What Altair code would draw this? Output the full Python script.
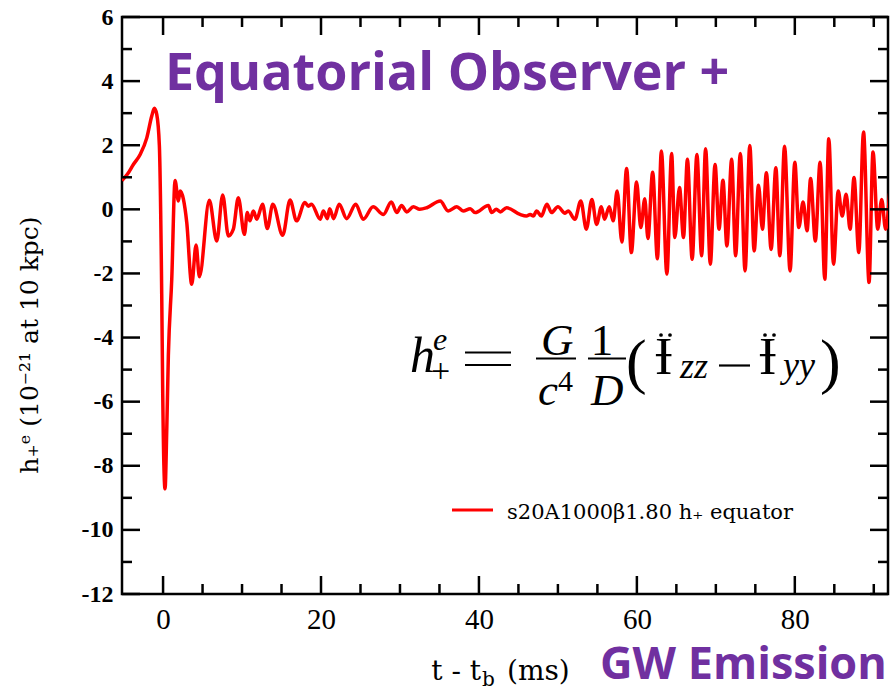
import altair as alt
import pandas as pd

# ---- data ----
t_ms = [-5.2, -4.5, -3.76, -2.9, -2.06, -1.43, -1.1, -0.8, -0.47, -0.17,
        -0.04, 0.25, 0.47, 0.67, 1.1, 1.52, 1.94, 2.15, 3.0, 3.63,
        4.18, 4.6, 5.86, 6.8, 7.55, 8.27, 8.9, 9.53, 10.3, 10.67,
        11.0, 11.43, 11.86, 12.6, 13.2, 13.9, 15.15, 16.08, 16.9, 17.97,
        18.4, 18.8, 19.9, 20.3, 20.8, 21.1, 21.6, 22.3, 23.25, 24.4,
        25.35, 26.6, 27.9, 28.9, 29.6, 30.2, 30.85, 31.7, 32.5, 33.4,
        35.1, 36.1, 37.2, 38.0, 38.9, 39.5, 41.2, 41.6, 42.2, 42.7,
        43.5, 45.2, 46.0, 46.5, 46.9, 47.3, 47.9, 48.6, 49.2, 50.0,
        50.9, 51.3, 52.15, 52.9, 53.6, 54.3, 54.9, 55.5, 55.9, 56.5,
        57.0, 57.5, 58.1, 58.7, 59.3, 59.96, 60.5, 61.0, 61.4, 62.0,
        62.6, 63.1, 63.8, 64.4, 64.8, 65.4, 65.9, 66.4, 67.0, 67.6,
        68.2, 68.7, 69.3, 69.9, 70.4, 70.9, 71.4, 72.0, 72.5, 73.1,
        73.7, 74.3, 74.85, 75.4, 75.9, 76.4, 77.0, 77.6, 78.1, 78.7,
        79.4, 80.0, 80.5, 81.05, 81.55, 82.0, 82.6, 83.2, 83.8, 84.3,
        84.9, 85.5, 86.0, 86.5, 87.0, 87.5, 88.1, 88.7, 89.4, 89.9,
        90.5, 91.0, 91.5, 92.0]

h_plus = [0.90, 1.10, 1.40, 1.71, 2.23, 2.91, 3.15, 2.96, 2.0, -2.65,
          -5.8, -8.72, -6.85, -4.57, -2.18, 0.90, 0.26, 0.57, -0.41, -2.34,
          -1.11, -2.10, 0.28, -0.99, 0.45, -0.83, -0.62, 0.36, -0.78, -0.10,
          -0.36, -0.05, -0.31, 0.16, -0.60, 0.16, -0.81, 0.29, -0.36, 0.21,
          0.10, 0.16, -0.31, -0.05, -0.29, 0.02, -0.29, 0.16, -0.29, 0.16,
          -0.31, 0.08, -0.16, 0.23, -0.10, 0.12, -0.08, 0.08, 0.0, 0.05,
          0.26, -0.05, 0.08, -0.05, 0.02, -0.10, 0.12, -0.10, 0.0, -0.08,
          0.05, -0.16, -0.21, -0.16, -0.21, -0.05, -0.21, 0.16, -0.10, 0.08,
          -0.12, -0.05, -0.31, 0.26, -0.62, 0.31, -0.47, 0.08, -0.31, 0.08,
          -0.36, 0.57, -1.02, 1.27, -1.35, 0.85, -0.57, 0.33, -0.91, 1.16,
          -1.54, 1.82, -2.02, 1.74, -0.88, 0.68, -0.88, 1.56, -1.56, 1.71,
          -1.45, 1.89, -1.71, 1.40, -0.62, 0.91, -1.14, 1.56, -1.45, 1.74,
          -1.92, 1.99, -1.30, 0.75, -0.62, 1.14, -1.25, 1.30, -1.45, 1.97,
          -1.92, 1.47, -0.57, 0.23, -0.67, 0.96, -0.99, 1.47, -2.18, 2.20,
          -1.71, 0.57, -0.21, 0.47, -0.62, 0.99, -1.35, 2.41, -2.28, 1.79,
          -0.62, 0.31, -0.62, 0.5]

y_major = [-12, -10, -8, -6, -4, -2, 0, 2, 4, 6]
y_minor = [-11, -9, -7, -5, -3, -1, 1, 3, 5]
x_major = [0, 20, 40, 60, 80]
x_minor = [5, 10, 15, 25, 30, 35, 45, 50, 55, 65, 70, 75, 85, 90]

legend_label = "s20A1000\u03b21.80 h\u208a equator"

# ---- layout ----
W, H = 766, 577
LEFT, TOP = 122, 17
RED = "#ff0000"
PURPLE = "#7030A0"

xs = alt.Scale(domain=[-5.2, 91.8], nice=False, zero=False)
ys = alt.Scale(domain=[-12, 6], nice=False, zero=False)
xaxis = alt.Axis(values=x_major, ticks=False, domain=False, grid=False,
                 labelFont="Liberation Serif", labelFontSize=29, labelPadding=11,
                 labelColor="black", title=None, labelFlush=False)
yaxis = alt.Axis(values=y_major, ticks=False, domain=False, grid=False,
                 labelFont="Liberation Serif", labelFontWeight="bold", labelFontSize=24,
                 labelPadding=9, labelColor="black", title=None,
                 labelExpr="toString(datum.value)")

df = pd.DataFrame({"t": t_ms, "h": h_plus})

line = alt.Chart(df).mark_line(color=RED, strokeWidth=3.5, clip=True,
                               interpolate="monotone").encode(
    x=alt.X("t:Q", scale=xs, axis=xaxis),
    y=alt.Y("h:Q", scale=ys, axis=yaxis),
)

def yticks(vals, x0, x1):
    return alt.Chart(pd.DataFrame({"v": vals})).mark_rule(color="black", strokeWidth=2.5).encode(
        y=alt.Y("v:Q", scale=ys, axis=yaxis), x=alt.value(x0), x2=alt.value(x1))

def xticks(vals, y0, y1):
    return alt.Chart(pd.DataFrame({"v": vals})).mark_rule(color="black", strokeWidth=2.5).encode(
        x=alt.X("v:Q", scale=xs, axis=xaxis), y=alt.value(y0), y2=alt.value(y1))

ticks = [
    yticks(y_major, 0, 18), yticks(y_minor, 0, 10),
    yticks(y_major, W - 18, W), yticks(y_minor, W - 10, W),
    xticks(x_major, H - 18, H), xticks(x_minor, H - 10, H),
    xticks(x_major, 0, 18), xticks(x_minor, 0, 10),
]

one = pd.DataFrame({"k": [0]})

def txt(s, px, py, size, font="Liberation Serif", style="normal", weight="normal",
        color="black", align="left", baseline="alphabetic", angle=0):
    props = dict(text=s, font=font, fontSize=size, fontStyle=style, fontWeight=weight,
                 color=color, align=align, baseline=baseline)
    if angle:
        props["angle"] = angle
    return alt.Chart(one).mark_text(**props).encode(
        x=alt.value(px - LEFT), y=alt.value(py - TOP))

def bar(px0, px1, py, color="black", w=2.0):
    return alt.Chart(one).mark_rule(color=color, strokeWidth=w).encode(
        x=alt.value(px0 - LEFT), x2=alt.value(px1 - LEFT), y=alt.value(py - TOP))

def dot(px, py):
    return alt.Chart(one).mark_circle(color="black", opacity=1, size=14).encode(
        x=alt.value(px - LEFT), y=alt.value(py - TOP))

annotations = [
    # titles
    txt("h\u208a\u1d49  (10\u207b\u00b2\u00b9 at 10 kpc)", 30, 345, 25, font="DejaVu Serif",
        align="center", baseline="middle", angle=270),
    txt("t - t", 481, 680, 28, font="DejaVu Serif", align="right"),
    txt("b", 482, 686, 20, font="DejaVu Serif"),
    txt("(ms)", 507, 680, 28, font="DejaVu Serif"),
    # big purple labels
    txt("Equatorial Observer +", 165, 90, 52, font="Open Sans", weight="bold", color=PURPLE),
    txt("GW Emission", 600, 679, 45, font="Open Sans", weight="bold", color=PURPLE),
    # formula
    txt("h", 410, 372, 50, style="italic"),
    txt("e", 433, 350, 32, style="italic"),
    txt("+", 431, 382, 34),
    bar(465, 511, 352.5, w=2.2),
    bar(465, 511, 365, w=2.2),
    txt("G", 541, 355, 45, style="italic"),
    bar(536, 576, 358.6),
    txt("c", 538, 405, 45, style="italic"),
    txt("4", 558, 391, 30),
    txt("1", 602, 355, 45, align="center"),
    bar(588, 626, 358.6),
    txt("D", 591, 405, 45, style="italic"),
    txt("(", 626, 382, 62),
    txt("\u0197", 655, 374, 52),
    dot(661, 335), dot(670, 335),
    txt("zz", 680, 378, 36, style="italic"),
    bar(719, 750, 365.5, w=2.2),
    txt("\u0197", 759, 374, 52),
    dot(765, 335), dot(774, 335),
    txt("yy", 783, 377, 36, style="italic"),
    txt(")", 820, 382, 62),
    # legend
    bar(452, 493, 510, color=RED, w=3),
    txt(legend_label, 507, 519, 21, font="DejaVu Serif"),
]

chart = alt.layer(line, *ticks, *annotations).properties(
    width=W, height=H,
    padding={"left": LEFT, "top": TOP, "right": 891 - LEFT - W, "bottom": 691 - TOP - H},
    autosize=alt.AutoSizeParams(type="none"),
    background="white",
).configure_view(stroke="black", strokeWidth=2.5)

chart.save("out.html", embed_options={"renderer": "svg", "actions": False})
